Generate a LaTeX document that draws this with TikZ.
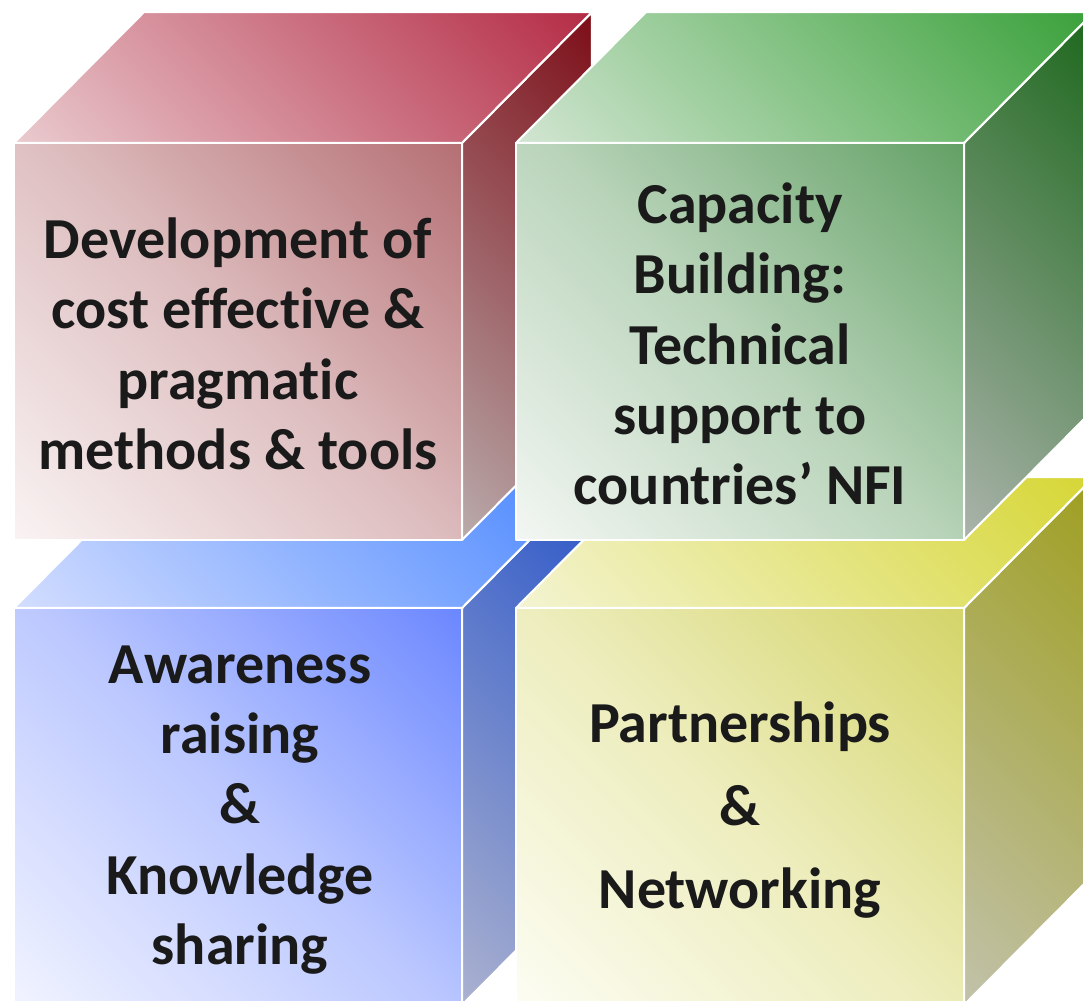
\documentclass[tikz,border=0pt]{standalone}
\usepackage{fontspec}
\setmainfont{Carlito}[Ligatures=NoCommon]
\usepackage{xcolor}
\definecolor{redfronta}{HTML}{FAF4F4}
\definecolor{redfrontb}{HTML}{B46E72}
\definecolor{redtopa}{HTML}{EACCD0}
\definecolor{redtopb}{HTML}{B42A44}
\definecolor{redsidea}{HTML}{BAACAC}
\definecolor{redsideb}{HTML}{7C0C16}
\definecolor{greenfronta}{HTML}{F4F7F4}
\definecolor{greenfrontb}{HTML}{62A064}
\definecolor{greentopa}{HTML}{D4E6D4}
\definecolor{greentopb}{HTML}{38A038}
\definecolor{greensidea}{HTML}{ACB4AC}
\definecolor{greensideb}{HTML}{1A661A}
\definecolor{bluefronta}{HTML}{F2F4FF}
\definecolor{bluefrontb}{HTML}{6A86FF}
\definecolor{bluetopa}{HTML}{D4DEFF}
\definecolor{bluetopb}{HTML}{4886FF}
\definecolor{bluesidea}{HTML}{ACB2D0}
\definecolor{bluesideb}{HTML}{2854C8}
\definecolor{yellowfronta}{HTML}{FDFDF4}
\definecolor{yellowfrontb}{HTML}{D4D468}
\definecolor{yellowtopa}{HTML}{F4F4D4}
\definecolor{yellowtopb}{HTML}{D6D634}
\definecolor{yellowsidea}{HTML}{C2C2AC}
\definecolor{yellowsideb}{HTML}{9E9E1E}
\definecolor{cubetext}{HTML}{1A1A1A}
\colorlet{cubelo}{white}
\colorlet{cubemid}{gray}
\colorlet{cubehi}{black}
\pgfdeclareverticalshading[cubelo,cubemid,cubehi]{cubefade}{100bp}{color(0bp)=(cubelo); color(14bp)=(cubelo); color(50bp)=(cubemid); color(86bp)=(cubehi); color(100bp)=(cubehi)}
\def\cubew{448}
\def\cubeh{397}
\def\cubedx{130}
\def\cubedy{131}
% #1,#2: lower left corner of the front face, #3: colour name
\newcommand{\drawcube}[3]{
  \colorlet{cubelo}{#3sidea}\colorlet{cubehi}{#3sideb}\colorlet{cubemid}{cubelo!50!cubehi}
  \shade[face]
    (#1+\cubew, #2) -- ++(\cubedx, \cubedy) -- ++(0, \cubeh) -- ++(-\cubedx, -\cubedy) -- cycle;
  \colorlet{cubelo}{#3topa}\colorlet{cubehi}{#3topb}\colorlet{cubemid}{cubelo!50!cubehi}
  \shade[face]
    (#1, #2+\cubeh) -- ++(\cubew, 0) -- ++(\cubedx, \cubedy) -- ++(-\cubew, 0) -- cycle;
  \colorlet{cubelo}{#3fronta}\colorlet{cubehi}{#3frontb}\colorlet{cubemid}{cubelo!60!cubehi}
  \shade[face] (#1, #2) rectangle ++(\cubew, \cubeh);
}

\begin{document}
\begin{tikzpicture}[x=0.01cm, y=0.01cm,
    face/.style={draw=white, line width=0.6pt, line join=round,
      shading=cubefade, shading angle=-45},
    cubelabel/.style={align=center, text=cubetext,
      font=\fontsize{16.5}{20}\selectfont\bfseries}]
  \useasboundingbox (0,0) rectangle (1083,1000);
  \clip (0,0) rectangle (1083,1000);
  \drawcube{14}{-5}{blue}
  \drawcube{516}{-5}{yellow}
  \drawcube{14}{460}{red}
  \drawcube{516}{460}{green}
  \node[cubelabel] (methods) at (238, 656) {Development of\\cost effective \&\\pragmatic\\methods \& tools};
  \node[cubelabel] (capacity) at (740, 656) {Capacity\\Building:\\Technical\\support to\\countries’ NFI};
  \node[cubelabel] (awareness) at (240, 190) {Awareness\\raising\\\&\\Knowledge\\sharing};
  \node[cubelabel] (partners) at (740, 190) {Partnerships\\[3.7pt]\&\\[3.7pt]Networking};
\end{tikzpicture}
\end{document}
